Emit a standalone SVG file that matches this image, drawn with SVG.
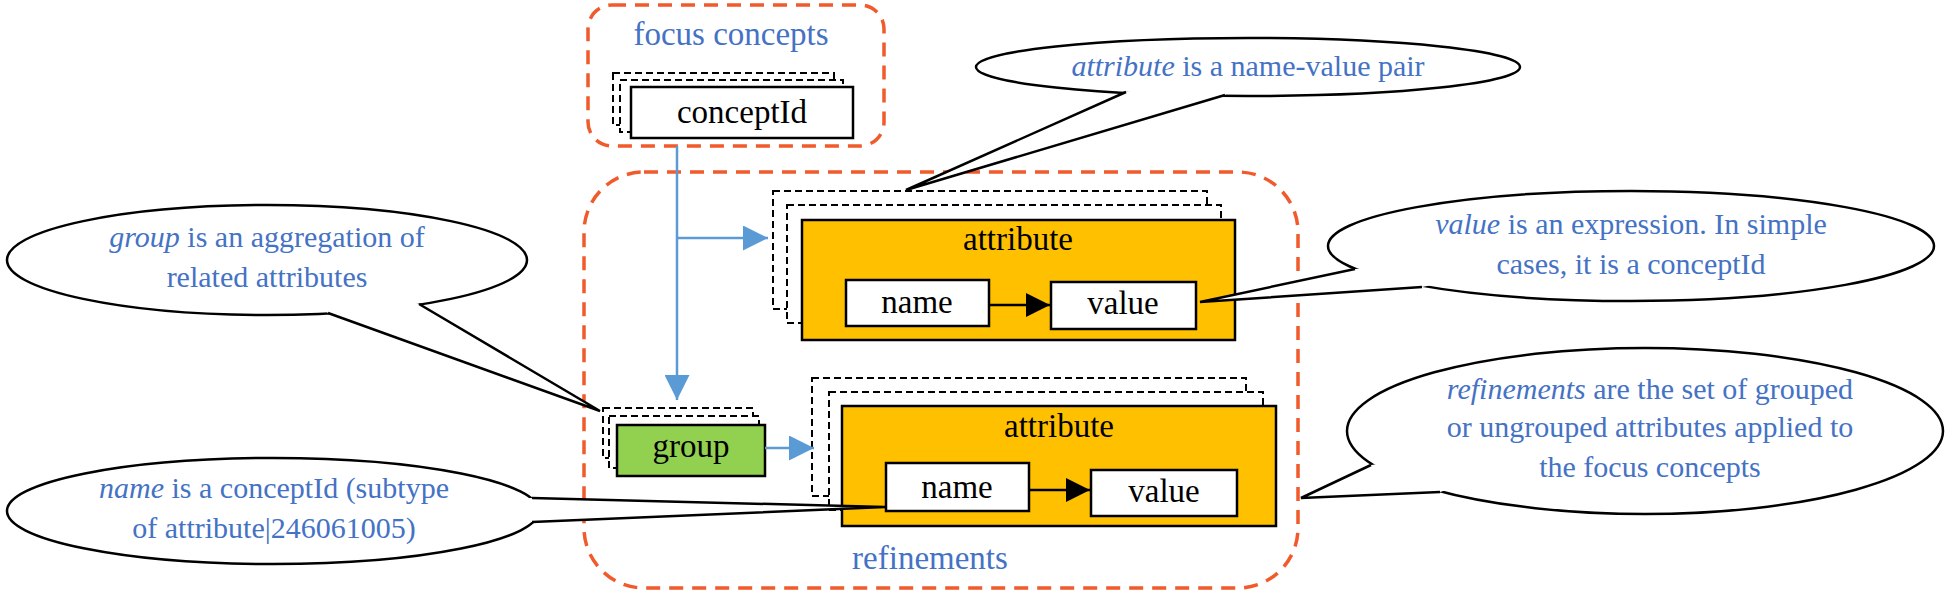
<svg xmlns="http://www.w3.org/2000/svg" width="1946" height="595" viewBox="0 0 1946 595">
<defs>
<style>
.lbl{font-family:"Liberation Serif",serif;font-size:33px;fill:#000;text-anchor:middle}
.blue{font-family:"Liberation Serif",serif;font-size:33px;fill:#4472c4;text-anchor:middle}
.co{font-family:"Liberation Serif",serif;font-size:30px;fill:#4472c4;text-anchor:middle}
.it{font-style:italic}
.zone{fill:none;stroke:#f15a2b;stroke-width:3.5;stroke-dasharray:14 9}
.dash{fill:#fff;stroke:#000;stroke-width:2;stroke-dasharray:7 4}
.box{fill:#fff;stroke:#000;stroke-width:2.5}
.attr{fill:#ffc000;stroke:#000;stroke-width:2.5}
.ell{fill:#fff;stroke:#000;stroke-width:2.5}
.tailfill{fill:#fff;stroke:none}
.tail{stroke:#000;stroke-width:2.5;fill:none}
.blink{stroke:#5b9bd5;stroke-width:2.5;fill:none}
</style>
<marker id="ab" viewBox="0 0 10 10" refX="10" refY="5" markerWidth="25" markerHeight="25" markerUnits="userSpaceOnUse" orient="auto"><path d="M0,0L10,5L0,10z" fill="#5b9bd5"/></marker>
<marker id="ak" viewBox="0 0 10 10" refX="10" refY="5" markerWidth="24" markerHeight="24" markerUnits="userSpaceOnUse" orient="auto"><path d="M0,0L10,5L0,10z" fill="#000"/></marker>
</defs>

<g id="focus-zone">
<rect class="zone" x="588" y="5" width="296" height="141" rx="24"/>
<text class="blue" x="731" y="45">focus concepts</text>
</g>
<g id="refinements-zone">
<rect class="zone" x="584" y="172" width="714" height="416" rx="60"/>
<text class="blue" x="930" y="569">refinements</text>
</g>

<g id="conceptId">
<rect class="dash" x="613" y="73" width="221" height="52"/>
<rect class="dash" x="620" y="80" width="223" height="52"/>
<rect class="box" x="631" y="87" width="222" height="51"/>
<text class="lbl" x="742" y="123">conceptId</text>
</g>

<g id="attribute1">
<rect class="dash" x="773" y="191" width="434" height="118"/>
<rect class="dash" x="787" y="205" width="434" height="118"/>
<rect class="attr" x="802" y="220" width="433" height="120"/>
<text class="lbl" x="1018" y="250">attribute</text>
<rect class="box" x="846" y="280" width="143" height="46"/>
<text class="lbl" x="917" y="313">name</text>
<rect class="box" x="1051" y="282" width="145" height="47"/>
<text class="lbl" x="1123" y="314">value</text>
</g>

<g id="group">
<rect class="dash" x="603" y="408" width="150" height="50"/>
<rect class="dash" x="609" y="416" width="150" height="52"/>
<rect x="617" y="425" width="148" height="51" fill="#92d050" stroke="#000" stroke-width="2.5"/>
<text class="lbl" x="691" y="457">group</text>
</g>

<g id="attribute2">
<rect class="dash" x="812" y="378" width="434" height="118"/>
<rect class="dash" x="829" y="392" width="434" height="118"/>
<rect class="attr" x="842" y="406" width="434" height="120"/>
<text class="lbl" x="1059" y="437">attribute</text>
<rect class="box" x="886" y="463" width="143" height="48"/>
<text class="lbl" x="957" y="498">name</text>
<rect class="box" x="1091" y="470" width="146" height="46"/>
<text class="lbl" x="1164" y="502">value</text>
</g>

<g id="connectors">
<path class="blink" d="M677,146V400" marker-end="url(#ab)"/>
<path class="blink" d="M677,238H768" marker-end="url(#ab)"/>
<path class="blink" d="M765,448H814" marker-end="url(#ab)"/>
<path class="tail" d="M989,305H1050" marker-end="url(#ak)"/>
<path class="tail" d="M1029,490H1090" marker-end="url(#ak)"/>
</g>

<g id="callout-attribute">
<ellipse class="ell" cx="1248" cy="67" rx="272" ry="29"/>
<polygon class="tailfill" points="1126,92 906,190 1225,95 1248,67"/>
<path class="tail" d="M1126,92L906,190L1225,95"/>
<text class="co" x="1248" y="76"><tspan class="it">attribute</tspan> is a name-value pair</text>
</g>

<g id="callout-group">
<ellipse class="ell" cx="267" cy="260" rx="260" ry="55"/>
<polygon class="tailfill" points="328,313 600,411 419,304 267,260"/>
<path class="tail" d="M328,313L600,411L419,304"/>
<text class="co" x="267" y="247"><tspan class="it">group</tspan> is an aggregation of</text>
<text class="co" x="267" y="287">related attributes</text>
</g>

<g id="callout-name">
<ellipse class="ell" cx="273" cy="511" rx="266" ry="53"/>
<polygon class="tailfill" points="532,498 885,507 532,522 273,511"/>
<path class="tail" d="M532,498L885,507L532,522"/>
<text class="co" x="274" y="498"><tspan class="it">name</tspan> is a conceptId (subtype</text>
<text class="co" x="274" y="538">of attribute|246061005)</text>
</g>

<g id="callout-value">
<ellipse class="ell" cx="1631" cy="246" rx="303" ry="55"/>
<polygon class="tailfill" points="1355,269 1200,302 1422,287 1631,246"/>
<path class="tail" d="M1355,269L1200,302L1422,287"/>
<text class="co" x="1631" y="234"><tspan class="it">value</tspan> is an expression. In simple</text>
<text class="co" x="1631" y="274">cases, it is a conceptId</text>
</g>

<g id="callout-refinements">
<ellipse class="ell" cx="1645" cy="431" rx="298" ry="83"/>
<polygon class="tailfill" points="1371,465 1301,498 1440,492 1645,431"/>
<path class="tail" d="M1371,465L1301,498L1440,492"/>
<text class="co" x="1650" y="399"><tspan class="it">refinements</tspan> are the set of grouped</text>
<text class="co" x="1650" y="437">or ungrouped attributes applied to</text>
<text class="co" x="1650" y="477">the focus concepts</text>
</g>
</svg>
